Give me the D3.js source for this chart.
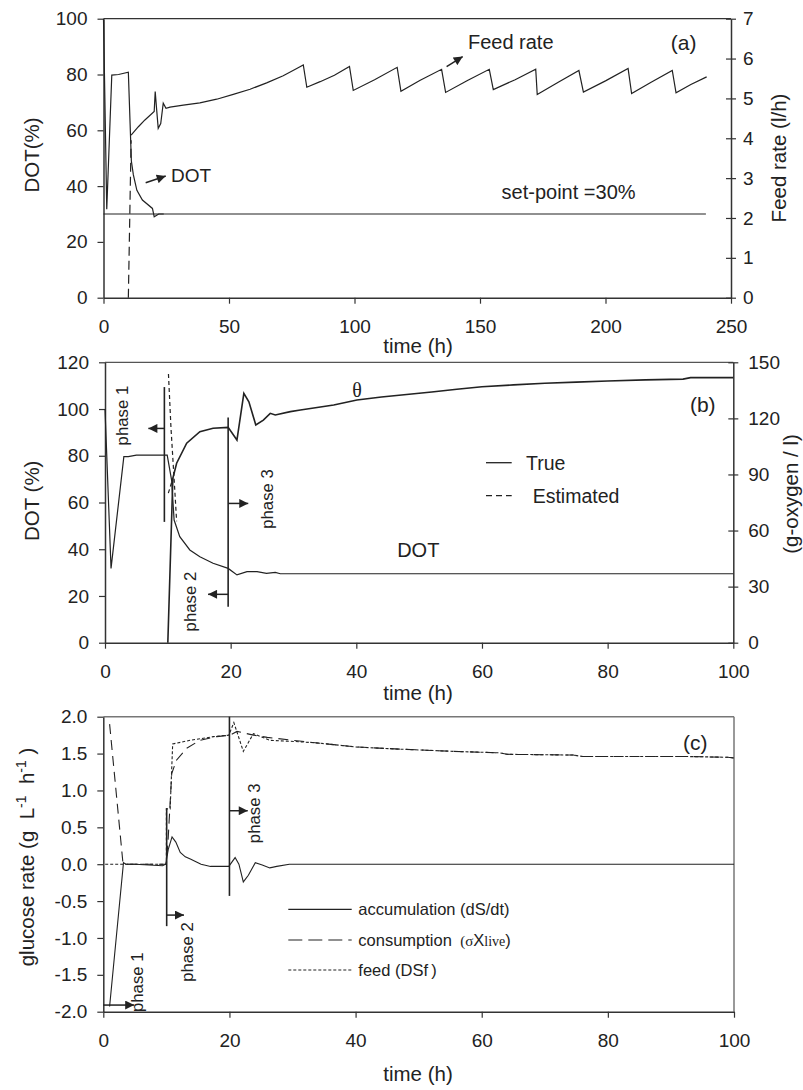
<!DOCTYPE html>
<html>
<head>
<meta charset="utf-8">
<script src="https://cdn.jsdelivr.net/npm/d3@7"></script>
<style>
  body { margin: 0; background: #fff; }
  svg { display: block; font-family: "Liberation Sans", Arial, sans-serif; }
  .tick text { font-size: 19px; fill: #222; }
  text { fill: #222; }
</style>
</head>
<body>
<svg id="chart" width="803" height="1090"></svg>
<script>
// ---- panel (a): DOT (left, %) and feed rate (right, l/h) vs time ----
var aXTicks = [0, 50, 100, 150, 200, 250],
    aYTicks = [0, 20, 40, 60, 80, 100],
    aY2Ticks = [0, 1, 2, 3, 4, 5, 6, 7];
var aDotTime = [0, 1.3, 3.3, 6, 9.9, 11.1, 11.9, 13.3, 15.5, 19.5, 20.2, 22, 24],
    aDotVal  = [100, 31.7, 79.8, 80, 80.8, 49, 44, 38.5, 35, 32, 29, 30, 30];
var aSetTime = [0, 240],
    aSetVal  = [30, 30];
var aFeedStartTime = [9.9, 11.0],
    aFeedStartVal  = [0, 3.95];
var aFeedTime = [11.0, 13.9, 16.5, 20.2, 20.6, 21.2, 21.8, 22.8, 23.8, 24.9, 26.5, 31.8, 38.4, 45.1, 51.7, 58.4, 65, 71.6, 77, 79.6,
                 81, 86.3, 92, 98, 99.5, 108, 117, 118.5, 126, 134.7, 136.3, 145, 153.7, 155.3, 164, 172.2,
                 172.8, 181, 189.4, 191.2, 200, 209, 210.4, 218, 226.6, 228.1, 234, 240.3],
    aFeedRate = [4.08, 4.29, 4.46, 4.67, 5.17, 4.70, 4.25, 4.37, 4.88, 4.75, 4.78, 4.83, 4.89, 4.98, 5.10, 5.23, 5.39, 5.57, 5.75, 5.84,
                 5.28, 5.42, 5.58, 5.80, 5.20, 5.47, 5.78, 5.18, 5.45, 5.73, 5.15, 5.45, 5.73, 5.22, 5.47, 5.73,
                 5.10, 5.40, 5.70, 5.16, 5.44, 5.75, 5.12, 5.40, 5.70, 5.14, 5.35, 5.54];

// ---- panel (b): DOT (left, %) and theta (right, g-oxygen/l) ----
var bXTicks = [0, 20, 40, 60, 80, 100],
    bYTicks = [0, 20, 40, 60, 80, 100, 120],
    bY2Ticks = [0, 30, 60, 90, 120, 150];
var bDotTime = [0, 0.96, 3.0, 3.7, 5.0, 9.9, 10.6, 11.0, 11.9, 13.5, 15.1, 17.2, 19.6, 21.0, 22.6, 24.2, 25.7, 27.1, 27.9, 100],
    bDotVal  = [100, 31.8, 79.6, 79.6, 80.3, 80.3, 69.6, 52.5, 45.4, 39.7, 36.8, 34.0, 31.8, 29.0, 30.4, 30.4, 29.7, 30.1, 29.5, 29.5];
var bDotEstTime = [10.1, 10.5, 11.0, 11.4],
    bDotEstVal  = [115, 92, 70, 52];
var bThetaTime = [10.0, 10.8, 11.4, 13.0, 15.1, 17.2, 19.6, 21.0, 22.1, 22.9, 24.0, 25.2, 26.3, 27.1, 29.5, 31.1, 36.4, 40.1,
                  44, 48, 52, 56, 60, 65, 70, 75, 80, 86, 92, 93.2, 100],
    bThetaVal  = [0, 88, 96, 106.7, 112.9, 114.7, 115.2, 108.4, 133.4, 128.9, 116.5, 119.1, 122.7, 121.8, 123.6, 124.5, 127.2, 129.8,
                  131.4, 132.8, 134.1, 135.6, 136.9, 137.9, 138.8, 139.4, 140.0, 140.6, 141.0, 141.8, 141.8];
var bThetaEstTime = [10.08, 10.8],
    bThetaEstVal  = [80, 88];

// ---- panel (c): glucose rates ----
var cXTicks = [0, 20, 40, 60, 80, 100],
    cYTicks = [-2, -1.5, -1, -0.5, 0, 0.5, 1, 1.5, 2];
var cAccTime = [1.0, 3.2, 3.6, 5, 9.4, 9.9, 10.3, 10.9, 11.5, 12.2, 13.0, 13.8, 15.5, 17.0, 19.9, 20.9, 21.5, 22.2, 23.0, 24.1, 25.2, 26.4, 27.5, 29.5, 100],
    cAccVal  = [-1.93, 0.02, 0.0, 0.0, -0.02, 0.0, 0.2, 0.37, 0.3, 0.16, 0.1, 0.07, 0.0, -0.03, -0.03, 0.09, 0.0, -0.24, -0.15, 0.02, -0.01, -0.05, -0.03, 0, 0];
var cConsTime = [1.0, 3.1, 3.3, 10.0, 10.3, 10.85, 11.6, 13.2, 15.3, 18.0, 20.1, 21.2, 23.8, 26, 30, 34.4, 40, 47, 55.5, 62.9, 64, 74.5, 76, 92.6, 99, 100],
    cConsVal  = [1.9, 0.03, 0, 0, 0.37, 1.23, 1.41, 1.57, 1.68, 1.73, 1.75, 1.80, 1.75, 1.72, 1.68, 1.64, 1.59, 1.56, 1.53, 1.51, 1.49, 1.48, 1.46, 1.46, 1.45, 1.44];
var cFeedTime = [0.3, 10.0, 10.0, 10.6, 11.0, 13.75, 17.5, 19.9, 20.7, 22.2, 23.8, 26.4, 31.2, 34.4, 40, 47, 55.5, 62.9, 64, 74.5, 76, 92.6, 99, 100],
    cFeedVal  = [0, 0, 0.75, 0.75, 1.63, 1.68, 1.73, 1.75, 1.92, 1.53, 1.77, 1.68, 1.66, 1.64, 1.59, 1.56, 1.53, 1.51, 1.49, 1.48, 1.46, 1.46, 1.45, 1.44];

var svg = d3.select("#chart");
var ink = "#222";

svg.append("defs").append("marker")
  .attr("id", "arr")
  .attr("viewBox", "0 0 10 10")
  .attr("refX", 10).attr("refY", 5)
  .attr("markerWidth", 10).attr("markerHeight", 9)
  .attr("markerUnits", "userSpaceOnUse")
  .attr("orient", "auto")
  .append("path").attr("d", "M0,0L10,5L0,10z").attr("fill", ink);

function styleAxis(g) {
  g.attr("font-size", null).attr("font-family", null);
  g.select(".domain").attr("stroke", "#333").attr("stroke-width", 1.5);
  g.selectAll(".tick line").attr("stroke", "#333").attr("stroke-width", 1.2);
}

function drawLine(g, x, y, xs, ys, dash, w) {
  var line = d3.line().x(function(d) { return x(d[0]); }).y(function(d) { return y(d[1]); });
  g.append("path")
    .datum(d3.zip(xs, ys))
    .attr("d", line)
    .attr("fill", "none")
    .attr("stroke", ink)
    .attr("stroke-width", w || 1.2)
    .attr("stroke-dasharray", dash || null);
}

function arrow(g, x1, y1, x2, y2) {
  g.append("line")
    .attr("x1", x1).attr("y1", y1).attr("x2", x2).attr("y2", y2)
    .attr("stroke", ink).attr("stroke-width", 1.5)
    .attr("marker-end", "url(#arr)");
}

function vline(g, x, y1, y2) {
  g.append("line").attr("x1", x).attr("x2", x).attr("y1", y1).attr("y2", y2)
    .attr("stroke", ink).attr("stroke-width", 1.6);
}

function label(g, x, y, txt, size, anchor, rot) {
  var t = g.append("text")
    .attr("font-size", size)
    .attr("text-anchor", anchor || "start")
    .text(txt);
  if (rot) t.attr("transform", "translate(" + x + "," + y + ") rotate(-90)");
  else t.attr("x", x).attr("y", y);
  return t;
}

var intFmt = d3.format("d");

function makeAxes(g, x, y, y2, xt, yt, y2t, opt) {
  var top = y.range()[1], bottom = y.range()[0], left = x.range()[0], right = x.range()[1];
  // frame lines
  g.append("line").attr("x1", left).attr("x2", right).attr("y1", top).attr("y2", top)
    .attr("stroke", opt.topColor).attr("stroke-width", opt.topWidth);
  if (!y2) {
    g.append("line").attr("x1", right).attr("x2", right).attr("y1", top).attr("y2", bottom)
      .attr("stroke", opt.topColor).attr("stroke-width", opt.topWidth);
  }
  g.append("g").attr("transform", "translate(0," + bottom + ")")
    .call(d3.axisBottom(x).tickValues(xt).tickSize(6).tickPadding(16).tickSizeOuter(0).tickFormat(intFmt))
    .call(styleAxis);
  g.append("g").attr("transform", "translate(" + left + ",0)")
    .call(d3.axisLeft(y).tickValues(yt).tickSize(6).tickPadding(10).tickSizeOuter(0).tickFormat(opt.fmt || intFmt))
    .call(styleAxis);
  if (y2) {
    g.append("g").attr("transform", "translate(" + right + ",0)")
      .call(d3.axisRight(y2).tickValues(y2t).tickSize(5).tickPadding(opt.rPad).tickSizeOuter(0).tickFormat(intFmt))
      .call(styleAxis)
      .call(function(a) { a.selectAll(".tick line").attr("x1", -5); });
  }
}

// ================= panel (a) =================
var ga = svg.append("g");
var ax = d3.scaleLinear().domain([0, 250]).range([103.5, 731]),
    ay = d3.scaleLinear().domain([0, 100]).range([297.7, 18.7]),
    ay2 = d3.scaleLinear().domain([0, 7]).range([297.7, 18.7]);
makeAxes(ga, ax, ay, ay2, aXTicks, aYTicks, aY2Ticks, {topColor: "#333", topWidth: 1.3, rPad: 7});
drawLine(ga, ax, ay, aSetTime, aSetVal);
drawLine(ga, ax, ay, aDotTime, aDotVal);
drawLine(ga, ax, ay2, aFeedStartTime, aFeedStartVal, "9,5");
drawLine(ga, ax, ay2, aFeedTime, aFeedRate);
arrow(ga, ax(16.8), ay(41.2), ax(24.8), ay(43.6));
label(ga, ax(26.9), ay(41.5), "DOT", 19);
arrow(ga, ax(136.7), ay2(5.80), ax(143.1), ay2(6.05));
label(ga, ax(145.2), ay2(6.24), "Feed rate", 20);
label(ga, ax(226), ay(88.8), "(a)", 21);
label(ga, ax(158.6), ay(35.4), "set-point =30%", 20);
label(ga, 418, 353, "time (h)", 20.5, "middle");
label(ga, 38.5, 155, "DOT(%)", 20.5, "middle", true);
label(ga, 786, 158, "Feed rate (l/h)", 20.5, "middle", true);

// ================= panel (b) =================
var gb = svg.append("g");
var bx = d3.scaleLinear().domain([0, 100]).range([105, 733.3]),
    by = d3.scaleLinear().domain([0, 120]).range([642.7, 362.3]),
    by2 = d3.scaleLinear().domain([0, 150]).range([642.7, 362.3]);
makeAxes(gb, bx, by, by2, bXTicks, bYTicks, bY2Ticks, {topColor: "#555", topWidth: 1.2, rPad: 10});
drawLine(gb, bx, by, bDotTime, bDotVal);
drawLine(gb, bx, by2, bThetaTime, bThetaVal, null, 1.6);
drawLine(gb, bx, by, bDotEstTime, bDotEstVal, "4,3");
drawLine(gb, bx, by2, bThetaEstTime, bThetaEstVal, "4,3");
vline(gb, bx(9.45), by(51.7), by(109.4));
arrow(gb, bx(9.45), by(91.7), bx(6.9), by(91.7));
vline(gb, bx(19.6), by(15.4), by(96.4));
arrow(gb, bx(19.6), by(59.6), bx(22.8), by(59.6));
arrow(gb, bx(19.6), by(20.7), bx(16.4), by(20.7));
label(gb, bx(3.66), by(97.2), "phase 1", 16.8, "middle", true);
label(gb, bx(26.7), by(61.5), "phase 3", 16.8, "middle", true);
label(gb, bx(14.56), by(17.6), "phase 2", 16.8, "middle", true);
label(gb, bx(40.1), by(105.2), "θ", 20, "middle").attr("font-family", "'Liberation Serif', 'Times New Roman', serif");
label(gb, bx(46.5), by(36.8), "DOT", 20);
label(gb, bx(93.1), by(98.7), "(b)", 21);
// legend
gb.append("line").attr("x1", 486).attr("x2", 511.7).attr("y1", 462.7).attr("y2", 462.7)
  .attr("stroke", ink).attr("stroke-width", 1.3);
label(gb, 526, 470, "True", 19.5);
gb.append("line").attr("x1", 486).attr("x2", 511.7).attr("y1", 495.7).attr("y2", 495.7)
  .attr("stroke", ink).attr("stroke-width", 1.3).attr("stroke-dasharray", "6,4");
label(gb, 532.7, 503, "Estimated", 19.5);
label(gb, 418, 700, "time (h)", 20.5, "middle");
label(gb, 39, 500.8, "DOT (%)", 20.5, "middle", true);
label(gb, 798, 494, "(g-oxygen / l)", 20.5, "middle", true);

// ================= panel (c) =================
var gc = svg.append("g");
var cx = d3.scaleLinear().domain([0, 100]).range([103.3, 734]),
    cy = d3.scaleLinear().domain([-2, 2]).range([1011.7, 716.7]);
makeAxes(gc, cx, cy, null, cXTicks, cYTicks, null, {topColor: "#777", topWidth: 1.5, fmt: function(d) { return d.toFixed(1); }});
drawLine(gc, cx, cy, cFeedTime, cFeedVal, "3,2", 1.1);
drawLine(gc, cx, cy, cConsTime, cConsVal, "10,6", 1.1);
drawLine(gc, cx, cy, cAccTime, cAccVal, null, 1.1);
arrow(gc, cx(0), cy(-1.91), cx(4.9), cy(-1.91));
label(gc, cx(6.3), cy(-1.6), "phase 1", 16.8, "middle", true);
vline(gc, cx(10.05), cy(-0.84), cy(0.76));
arrow(gc, cx(10.05), cy(-0.69), cx(12.8), cy(-0.69));
label(gc, cx(14.3), cy(-1.19), "phase 2", 16.8, "middle", true);
vline(gc, cx(20), cy(-0.43), cy(2.0));
arrow(gc, cx(20), cy(0.725), cx(22.9), cy(0.725));
label(gc, cx(24.8), cy(0.69), "phase 3", 16.8, "middle", true);
label(gc, cx(91.9), cy(1.55), "(c)", 21);
// legend
var legY = [909.3, 940, 970],
    legDash = [null, "14,6", "3,2"];
legY.forEach(function(yy, i) {
  gc.append("line").attr("x1", 288.3).attr("x2", 351.7).attr("y1", yy).attr("y2", yy)
    .attr("stroke", ink).attr("stroke-width", 1.2).attr("stroke-dasharray", legDash[i]);
});
label(gc, 358.3, 914.5, "accumulation (dS/dt)", 16.5);
var cons = label(gc, 358.3, 945.5, "consumption ", 16.5).attr("xml:space", "preserve");
cons.append("tspan").attr("font-family", "'Liberation Serif', serif").attr("font-size", 15).text("\u00a0(σ");
cons.append("tspan").attr("font-family", "'Liberation Sans', Arial, sans-serif").text("X");
cons.append("tspan").attr("font-family", "'Liberation Serif', serif").attr("font-size", 14).text("live");
cons.append("tspan").text(")");
label(gc, 358.3, 975.5, "feed (DSf\u2009)", 16.5);
label(gc, 418, 1081, "time (h)", 20.5, "middle");
var gl = label(gc, 34, 857, "glucose rate (g\u00a0\u00a0L", 20.5, "middle", true);
gl.append("tspan").attr("font-size", 14).attr("dy", -8).text("-1");
gl.append("tspan").attr("dy", 8).text("\u00a0\u00a0h");
gl.append("tspan").attr("font-size", 14).attr("dy", -8).text("-1");
gl.append("tspan").attr("dy", 8).text("\u00a0)");
</script>
</body>
</html>
